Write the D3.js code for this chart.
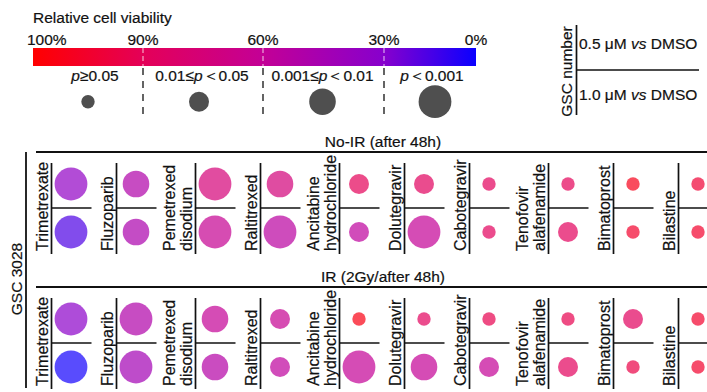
<!DOCTYPE html>
<html>
<head>
<meta charset="utf-8">
<script src="https://cdn.jsdelivr.net/npm/d3@7"></script>
<style>
  html, body { margin: 0; padding: 0; background: #fff; }
  svg { display: block; font-family: "Liberation Sans", Arial, sans-serif; }
  svg text { stroke: #111; stroke-width: 0.2px; }
</style>
</head>
<body>
<svg id="chart" width="707" height="392"></svg>
<script>
// ---- data -------------------------------------------------------------
const drugs = [
  ["Trimetrexate"], ["Fluzoparib"], ["Pemetrexed", "disodium"], ["Raltitrexed"],
  ["Ancitabine", "hydrochloride"], ["Dolutegravir"], ["Cabotegravir"],
  ["Tenofovir", "alafenamide"], ["Bimatoprost"], ["Bilastine"]
];
const cellLine = "GSC 3028";
const conditions = ["No-IR (after 48h)", "IR (2Gy/after 48h)"];
const doses = ["0.5 μM vs DMSO", "1.0 μM vs DMSO"];

// relative cell viability (%), one value per drug
const viabNoIR05 = [35, 50, 75, 74, 90, 87, 88, 90, 97, 94];
const viabNoIR10 = [16, 48, 62, 55, 57, 60, 88, 88, 95, 95];
const viabIR05   = [32, 50, 60, 62, 98, 88, 91, 91, 87, 95];
const viabIR10   = [2, 44, 52, 57, 60, 60, 60, 88, 92, 95];

// significance class: 0 p≥0.05, 1 0.01≤p<0.05, 2 0.001≤p<0.01, 3 p<0.001
const sigNoIR05 = [3, 2, 3, 2, 1, 1, 0, 0, 0, 0];
const sigNoIR10 = [3, 2, 3, 3, 1, 3, 0, 1, 0, 0];
const sigIR05   = [3, 3, 2, 1, 0, 0, 0, 0, 1, 0];
const sigIR10   = [3, 3, 2, 1, 3, 2, 1, 1, 0, 0];

const viabTicks = [100, 90, 60, 30, 0];
const tickLabels = ["100%", "90%", "60%", "30%", "0%"];
const sigLabels = ["p≥0.05", "0.01≤p＜0.05", "0.001≤p＜0.01", "p＜0.001"];

// ---- scales -----------------------------------------------------------
const svg = d3.select("#chart");
const ink = "#111";
const fs = 15.5;

const color = d3.scaleLinear()
  .domain(viabTicks)
  .range(["#ff0000", "#e40058", "#c30096", "#8700cd", "#0a00ff"])
  .interpolate(d3.interpolateRgb);
const barX = d3.scaleLinear().domain(viabTicks).range([33, 143, 263, 384, 476]);
const radius = d3.scaleOrdinal().domain([0, 1, 2, 3]).range([6.7, 10, 13.3, 16.4]);

// writes a label, setting every "p" / "vs" token in italics
function richText(sel, str, token) {
  const parts = str.split(token);
  parts.forEach((part, i) => {
    if (i > 0) sel.append("tspan").attr("font-style", "italic").text(token);
    if (part) sel.append("tspan").text(part);
  });
}

// ---- viability colour bar ---------------------------------------------
const barTop = 48, barH = 18, barLeft = barX(100), barW = barX(0) - barX(100);

svg.append("text").attr("x", 33).attr("y", 22.5).attr("font-size", fs)
  .attr("fill", ink).text("Relative cell viability");

const grad = svg.append("defs").append("linearGradient").attr("id", "viabGrad")
  .attr("x1", "0%").attr("x2", "100%").attr("y1", "0%").attr("y2", "0%");
grad.selectAll("stop").data(d3.range(100, -1, -5)).join("stop")
  .attr("offset", d => ((barX(d) - barLeft) / barW * 100) + "%")
  .attr("stop-color", d => color(d));

svg.append("rect").attr("x", barLeft).attr("y", barTop)
  .attr("width", barW).attr("height", barH).attr("fill", "url(#viabGrad)");

svg.selectAll("text.tick").data(viabTicks).join("text").attr("class", "tick")
  .attr("x", (d, i) => i === 0 ? barX(d) - 6 : barX(d))
  .attr("y", 45)
  .attr("text-anchor", (d, i) => i === 0 ? "start" : "middle")
  .attr("font-size", fs).attr("fill", ink)
  .text((d, i) => tickLabels[i]);

const inner = viabTicks.slice(1, -1);
svg.selectAll("line.cut-in").data(inner).join("line").attr("class", "cut-in")
  .attr("x1", d => barX(d)).attr("x2", d => barX(d))
  .attr("y1", barTop).attr("y2", barTop + barH)
  .attr("stroke", "#fff").attr("stroke-opacity", 0.6).attr("stroke-width", 1.3)
  .attr("stroke-dasharray", "5,3");
svg.selectAll("line.cut").data(inner).join("line").attr("class", "cut")
  .attr("x1", d => barX(d)).attr("x2", d => barX(d))
  .attr("y1", barTop + barH + 2).attr("y2", 117)
  .attr("stroke", ink).attr("stroke-width", 1.3)
  .attr("stroke-dasharray", "7,6");

// significance key: one circle per segment of the bar
const segMid = d3.range(4).map(i => (barX(viabTicks[i]) + barX(viabTicks[i + 1])) / 2);
const circleNudge = [0, -4, -1, 5];
const labelNudge = [7, -1, -1, 2];
sigLabels.forEach((lab, i) => {
  const t = svg.append("text").attr("x", segMid[i] + labelNudge[i]).attr("y", 81)
    .attr("text-anchor", "middle").attr("font-size", fs).attr("fill", ink);
  richText(t, lab, "p");
  svg.append("circle").attr("cx", segMid[i] + circleNudge[i]).attr("cy", 101.7)
    .attr("r", radius(i)).attr("fill", "#4f4f4f");
});

// ---- dose key (top right) ---------------------------------------------
const keyX = 576.5;
svg.append("line").attr("x1", keyX).attr("x2", keyX).attr("y1", 25).attr("y2", 115)
  .attr("stroke", ink).attr("stroke-width", 1.7);
svg.append("line").attr("x1", keyX).attr("x2", 699).attr("y1", 70).attr("y2", 70)
  .attr("stroke", ink).attr("stroke-width", 1.7);
svg.append("text").attr("transform", `translate(571.5,71.5) rotate(-90)`)
  .attr("text-anchor", "middle").attr("font-size", fs).attr("fill", ink).text("GSC number");
doses.forEach((d, i) => {
  const t = svg.append("text").attr("x", 579).attr("y", i === 0 ? 48.5 : 100)
    .attr("font-size", fs).attr("fill", ink);
  richText(t, d, "vs");
});

// ---- main grid --------------------------------------------------------
svg.append("line").attr("x1", 26).attr("x2", 26).attr("y1", 152).attr("y2", 388)
  .attr("stroke", ink).attr("stroke-width", 1.8);
svg.append("text").attr("transform", `translate(22,279) rotate(-90)`)
  .attr("text-anchor", "middle").attr("font-size", fs).attr("fill", ink).text(cellLine);

// x of each drug's divider: wider slots for two-line names
const slotX = [];
drugs.forEach((name, i) => {
  if (i === 0) slotX.push(51.5);
  else slotX.push(slotX[i - 1] + (name.length > 1 ? 79 : 65));
});

const rows = [
  { title: conditions[0], top: viabNoIR05, bot: viabNoIR10, sTop: sigNoIR05, sBot: sigNoIR10 },
  { title: conditions[1], top: viabIR05, bot: viabIR10, sTop: sigIR05, sBot: sigIR10 }
];

rows.forEach((row, r) => {
  const y0 = 163 + r * 135;
  const g = svg.append("g");

  g.append("line").attr("x1", 36).attr("x2", 707).attr("y1", y0 - 11).attr("y2", y0 - 11)
    .attr("stroke", ink).attr("stroke-width", 1.8);
  g.append("text").attr("x", 383).attr("y", y0 - 16.5).attr("text-anchor", "middle")
    .attr("font-size", fs).attr("fill", ink).text(row.title);

  drugs.forEach((name, i) => {
    const x = slotX[i];
    g.append("line").attr("x1", x).attr("x2", x).attr("y1", y0).attr("y2", y0 + 91)
      .attr("stroke", ink).attr("stroke-width", 1.7);
    g.append("line").attr("x1", x).attr("x2", x + 40).attr("y1", y0 + 45).attr("y2", y0 + 45)
      .attr("stroke", ink).attr("stroke-width", 1.7);

    const lab = g.append("text")
      .attr("transform", `translate(${x - 3.5 - (name.length - 1) * 17},${y0 + 88}) rotate(-90)`)
      .attr("font-size", 16).attr("fill", ink);
    name.forEach((ln, k) => {
      lab.append("tspan").attr("x", 0).attr("dy", k === 0 ? 0 : 17).text(ln);
    });

    g.append("circle").attr("cx", x + 19.5).attr("cy", y0 + 21)
      .attr("r", radius(row.sTop[i])).attr("fill", color(row.top[i])).attr("fill-opacity", 0.7);
    g.append("circle").attr("cx", x + 19.5).attr("cy", y0 + 69)
      .attr("r", radius(row.sBot[i])).attr("fill", color(row.bot[i])).attr("fill-opacity", 0.7);
  });
});
</script>
</body>
</html>
